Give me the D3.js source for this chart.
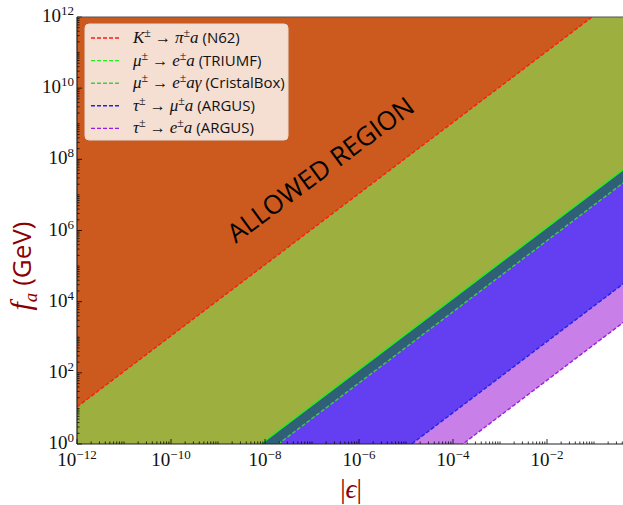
<!DOCTYPE html>
<html><head><meta charset="utf-8">
<script src="https://cdn.jsdelivr.net/npm/d3@7"></script>
<style>body{margin:0;background:#fff}svg{display:block}</style>
</head><body><svg id="c" width="623" height="505"></svg>
<script>
// epsilon endpoints and f_a values of each bound line at those endpoints
const epsEnds = [1e-12, 1];
const boundNames = ["N62", "TRIUMF", "CristalBox", "ARGUS_mu", "ARGUS_e"];
const boundFa = [
  [1.1e1, 1.1e13],   // K -> pi a (N62)
  [1.22e-4, 1.22e8], // mu -> e a (TRIUMF)
  [5.2e-5, 5.2e7],   // mu -> e a gamma (CristalBox)
  [7.6e-8, 7.6e4],   // tau -> mu a (ARGUS)
  [6.2e-9, 6.2e3]    // tau -> e a (ARGUS)
];
const lineColors = ["#ff1a1a", "#22ee22", "#3fcf3f", "#2222ee", "#9a1ee0"];
const fillColors = ["#9caf3f", "#305f78", "#643ff2", "#c87fe7", "#ffffff"];
const bgColor = "#cc5a1e";
const xTicks = [1e-12, 1e-10, 1e-8, 1e-6, 1e-4, 1e-2];
const xTickExp = ["−12", "−10", "−8", "−6", "−4", "−2"];
const yTicks = [1, 1e2, 1e4, 1e6, 1e8, 1e10, 1e12];
const yTickExp = ["0", "2", "4", "6", "8", "10", "12"];

const svg = d3.select("#c");
const L = 77, R = 641, T = 17, B = 444;
const x = d3.scaleLog().domain([1e-12, 1]).range([L, R]);
const y = d3.scaleLog().domain([1, 1e12]).range([B, T]);

svg.append("defs").append("clipPath").attr("id", "clip")
  .append("rect").attr("x", L).attr("y", T).attr("width", R - L).attr("height", B - T);
const g = svg.append("g").attr("clip-path", "url(#clip)");
g.append("rect").attr("x", L).attr("y", T).attr("width", R - L).attr("height", B - T).attr("fill", bgColor);

const area = d3.area().x(d => x(d[0])).y0(B + 5).y1(d => y(d[1]));
const line = d3.line().x(d => x(d[0])).y(d => y(d[1]));
boundFa.forEach((fa, i) => {
  const pts = epsEnds.map((e, j) => [e, fa[j]]);
  g.append("path").attr("d", area(pts)).attr("fill", fillColors[i]);
});
boundFa.forEach((fa, i) => {
  const pts = epsEnds.map((e, j) => [e, fa[j]]);
  g.append("path").attr("d", line(pts)).attr("fill", "none")
    .attr("stroke", lineColors[i]).attr("stroke-width", 1.4)
    .attr("stroke-dasharray", i === 1 ? null : "4,2");
});

// ticks (inward)
const minorX = [], minorY = [];
for (let e = -12; e < 1; e++) for (let k = 1; k < 10; k++) {
  const v = k * Math.pow(10, e);
  if (k === 1 && e % 2 === 0) continue;
  if (v <= 1) minorX.push(v);
}
for (let e = 0; e < 12; e++) for (let k = 1; k < 10; k++) {
  if (k === 1 && e % 2 === 0) continue;
  minorY.push(k * Math.pow(10, e));
}
const tk = svg.append("g").attr("stroke", "#000").attr("stroke-width", 0.8);
minorX.forEach(v => tk.append("line").attr("x1", x(v)).attr("x2", x(v)).attr("y1", B).attr("y2", B - 2.5));
xTicks.forEach(v => tk.append("line").attr("x1", x(v)).attr("x2", x(v)).attr("y1", B).attr("y2", B - 5));
minorY.forEach(v => tk.append("line").attr("y1", y(v)).attr("y2", y(v)).attr("x1", L).attr("x2", L + 2.5));
yTicks.forEach(v => tk.append("line").attr("y1", y(v)).attr("y2", y(v)).attr("x1", L).attr("x2", L + 5));

// spines
svg.append("line").attr("x1", L).attr("x2", 623).attr("y1", T).attr("y2", T).attr("stroke", "#555").attr("stroke-width", 1);
svg.append("line").attr("x1", L).attr("x2", 623).attr("y1", B).attr("y2", B).attr("stroke", "#222").attr("stroke-width", 1.2);
svg.append("line").attr("x1", L).attr("x2", L).attr("y1", T).attr("y2", B).attr("stroke", "#222").attr("stroke-width", 1.2);

const serif = "'Liberation Serif', 'DejaVu Serif', serif";
const sans = "'Open Sans', 'DejaVu Sans', sans-serif";
// x tick labels
xTicks.forEach((v, i) => {
  const t = svg.append("text").attr("x", x(v)).attr("y", B + 22).attr("text-anchor", "middle")
    .attr("font-family", serif).attr("font-size", 19).attr("fill", "#111");
  t.append("tspan").text("10");
  t.append("tspan").attr("dy", -7).attr("font-size", 13).text(xTickExp[i]);
});
yTicks.forEach((v, i) => {
  const t = svg.append("text").attr("x", L - 3).attr("y", y(v) + 5).attr("text-anchor", "end")
    .attr("font-family", serif).attr("font-size", 19).attr("fill", "#111");
  t.append("tspan").text("10");
  t.append("tspan").attr("dy", -7).attr("font-size", 13).text(yTickExp[i]);
});

// axis labels
const yl = svg.append("text").attr("transform", "translate(31,266) rotate(-90)").attr("text-anchor", "middle")
  .attr("fill", "#8b0000").attr("font-size", 26);
yl.append("tspan").attr("font-family", serif).attr("font-style", "italic").attr("font-size", 30).text("f");
yl.append("tspan").attr("font-family", serif).attr("font-style", "italic").attr("font-size", 19).attr("dy", 6).text("a");
yl.append("tspan").attr("font-family", sans).attr("dy", -6).text(" (GeV)");
svg.append("text").attr("x", 351).attr("y", 498).attr("text-anchor", "middle").attr("fill", "#8b0000")
  .attr("font-family", serif).attr("font-size", 27).html("|<tspan font-style='italic'>ϵ</tspan>|");

// allowed region
svg.append("text").attr("transform", "translate(326,177) rotate(-36.5)").attr("text-anchor", "middle")
  .attr("font-family", sans).attr("font-size", 26).attr("fill", "#000").text("ALLOWED REGION");

// legend
const lg = svg.append("g");
lg.append("rect").attr("x", 85).attr("y", 24).attr("width", 203).attr("height", 116).attr("rx", 4)
  .attr("fill", "#fff").attr("fill-opacity", 0.8).attr("stroke", "#ddd").attr("stroke-width", 1);
const legendRows = [
  [["i", "K"], ["sup", "±"], ["n", " → "], ["i", "π"], ["sup", "±"], ["i", "a"], ["s", " (N62)"]],
  [["i", "μ"], ["sup", "±"], ["n", " → "], ["i", "e"], ["sup", "±"], ["i", "a"], ["s", " (TRIUMF)"]],
  [["i", "μ"], ["sup", "±"], ["n", " → "], ["i", "e"], ["sup", "±"], ["i", "aγ"], ["s", " (CristalBox)"]],
  [["i", "τ"], ["sup", "±"], ["n", " → "], ["i", "μ"], ["sup", "±"], ["i", "a"], ["s", " (ARGUS)"]],
  [["i", "τ"], ["sup", "±"], ["n", " → "], ["i", "e"], ["sup", "±"], ["i", "a"], ["s", " (ARGUS)"]]
];
legendRows.forEach((row, i) => {
  const cy = 38 + i * 22.6;
  lg.append("line").attr("x1", 91).attr("x2", 120).attr("y1", cy).attr("y2", cy)
    .attr("stroke", lineColors[i]).attr("stroke-width", 1.4).attr("stroke-dasharray", "4,2");
  const t = lg.append("text").attr("x", 133).attr("y", cy + 5).attr("font-size", 15).attr("fill", "#111");
  let up = false;
  row.forEach(([k, s]) => {
    const sp = t.append("tspan").text(s);
    if (k === "sup") { sp.attr("dy", -6).attr("font-size", 12).attr("font-family", serif); up = true; }
    else {
      if (up) { sp.attr("dy", 6); up = false; }
      if (k === "i") sp.attr("font-family", serif).attr("font-style", "italic").attr("font-size", 17);
      else if (k === "n") sp.attr("font-family", serif).attr("font-size", 16);
      else sp.attr("font-family", sans);
    }
  });
});
</script></body></html>
